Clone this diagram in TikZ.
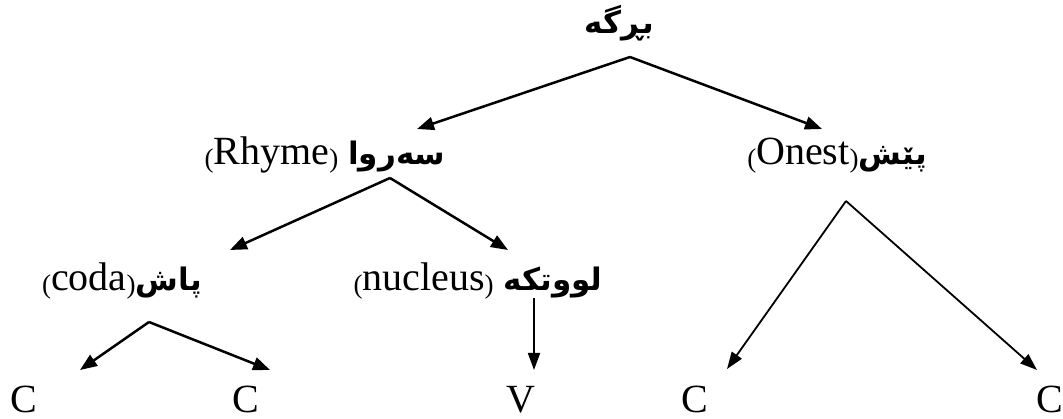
\documentclass[tikz,border=0pt]{standalone}
\usepackage{fontspec}
\setmainfont{Liberation Serif}
\newfontfamily\arabicfont[Script=Arabic]{DejaVu Sans}
\TeXXeTstate=1
\usetikzlibrary{arrows.meta}
\newcommand{\ku}[1]{{\arabicfont\bfseries\fontsize{31}{31}\selectfont\beginR #1\endR}}
\newcommand{\lpar}{\raisebox{-3pt}{\fontsize{27}{27}\selectfont (}}
\newcommand{\rpar}{\raisebox{-3pt}{\fontsize{27}{27}\selectfont )}}
\begin{document}
\begin{tikzpicture}[x=1pt,y=-1pt,
  lbl/.style={font=\fontsize{40}{40}\selectfont, inner sep=0pt, anchor=base},
  thickarrow/.style={line width=2.5pt, -{Triangle[length=17pt,width=13pt]}},
  thinarrow/.style={line width=1.8pt, -{Triangle[length=17pt,width=12pt]}}]
\useasboundingbox (0,0) rectangle (1063,419);
% labels
\node[lbl] (syl) at (619,34) {\ku{بڕگە}};
\node[lbl] (rhyme) at (325,165) {\lpar Rhyme\rpar{} \ku{سەروا}};
\node[lbl] (onset) at (837,165) {\lpar Onest\rpar\ku{پێش}};
\node[lbl] (coda) at (122,291) {\lpar coda\rpar\ku{پاش}};
\node[lbl] (nuc) at (478,291) {\lpar nucleus\rpar{} \ku{لووتکە}};
\node[lbl] (c1) at (23.5,413) {C};
\node[lbl] (c2) at (246,413) {C};
\node[lbl] (v) at (520.5,413) {V};
\node[lbl] (c3) at (694.5,413) {C};
\node[lbl] (c4) at (1050,413) {C};
% connector points
\coordinate (sylA) at (630,57);
\coordinate (rhT) at (417,129);
\coordinate (onT) at (822,129);
\coordinate (rhA) at (390,178);
\coordinate (rhL) at (230,250);
\coordinate (rhR) at (508,250);
\coordinate (onA) at (846,201);
\coordinate (onL) at (727,369);
\coordinate (onR) at (1037,370);
\coordinate (coA) at (149,322);
\coordinate (coL) at (80,370);
\coordinate (coR) at (270,370);
\coordinate (nuA) at (534,298);
\coordinate (nuT) at (534,370);
% connectors
\draw[thickarrow] (sylA) -- (rhT);
\draw[thickarrow] (sylA) -- (onT);
\draw[thickarrow] (rhA) -- (rhL);
\draw[thickarrow] (rhA) -- (rhR);
\draw[thinarrow] (onA) -- (onL);
\draw[thinarrow] (onA) -- (onR);
\draw[thickarrow] (coA) -- (coL);
\draw[thickarrow] (coA) -- (coR);
\draw[thinarrow] (nuA) -- (nuT);
\end{tikzpicture}
\end{document}
